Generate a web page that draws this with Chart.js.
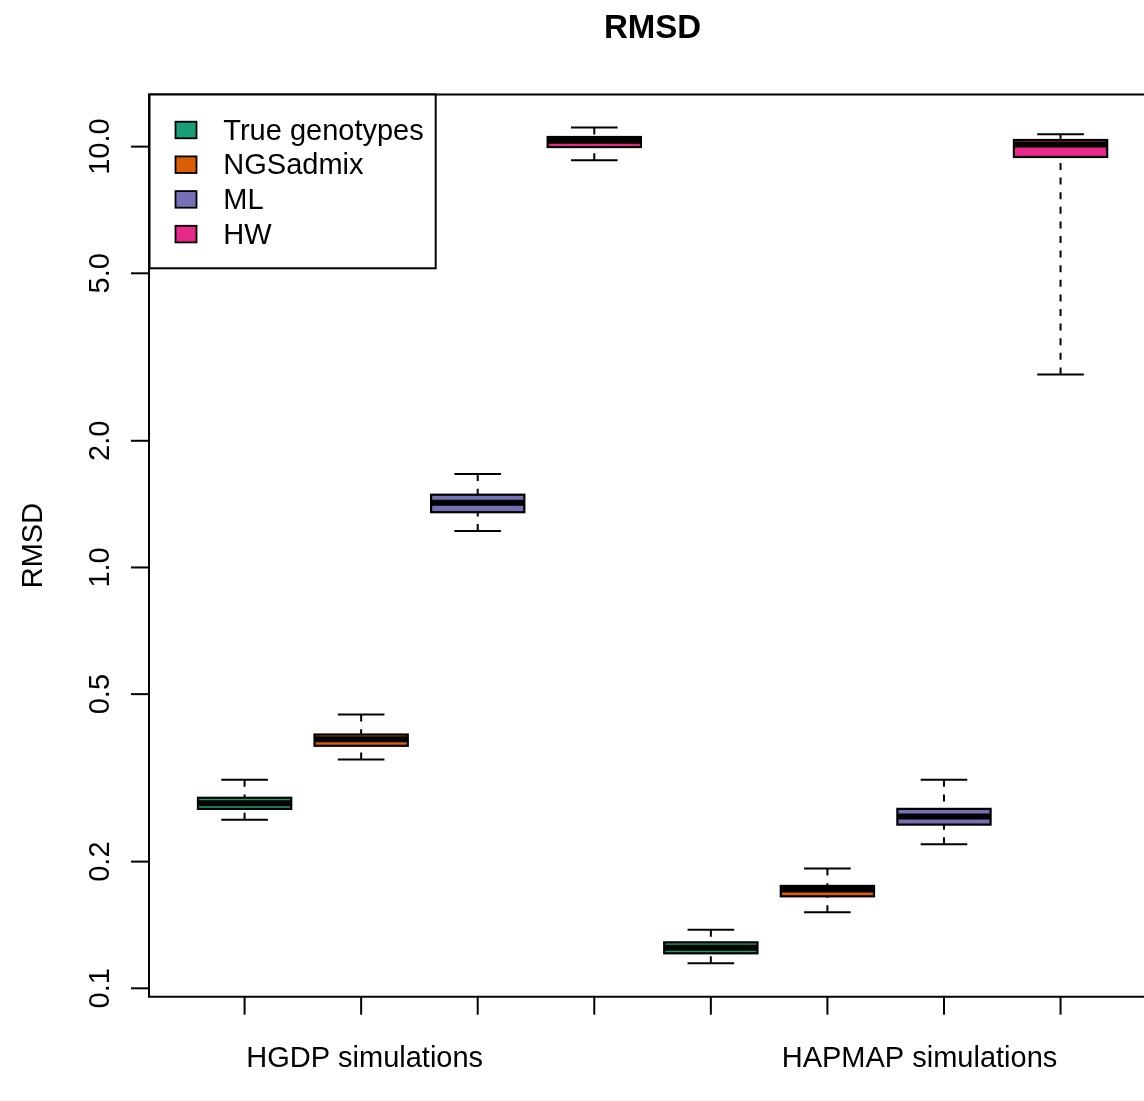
<!DOCTYPE html>
<html>
<head>
<meta charset="utf-8">
<title>RMSD</title>
<script src="https://cdn.jsdelivr.net/npm/chart.js@4.4.1/dist/chart.umd.min.js"></script>
<style>
  html, body { margin: 0; padding: 0; background: #ffffff; overflow: hidden; }
  #wrap { width: 1144px; height: 1101px; position: relative; }
  canvas { display: block; }
</style>
</head>
<body>
<div id="wrap"><canvas id="rmsd" width="1144" height="1101"></canvas></div>
<script>
// Methods compared within each simulation set
const methods = ['True genotypes', 'NGSadmix', 'ML', 'HW'];
const methodColors = ['#1B9E77', '#D95F02', '#7570B3', '#E7298A'];

// Simulation sets and where their labels sit along the x axis
const groups = ['HGDP simulations', 'HAPMAP simulations'];
const groupLabelAt = [2.03, 6.79];

// Box positions: 4 methods for HGDP, then 4 for HAPMAP
const boxPositions = [1, 2, 3, 4, 5, 6, 7, 8];
const boxMethod = [0, 1, 2, 3, 0, 1, 2, 3];

// Five-number summaries of RMSD per box
const lowerWhisker  = [0.2514, 0.3497, 1.220, 9.278, 0.1147, 0.1516, 0.2199, 2.876];
const lowerQuartile = [0.2669, 0.3769, 1.353, 9.977, 0.1211, 0.1654, 0.2449, 9.448];
const medians       = [0.2752, 0.3906, 1.425, 10.32, 0.1249, 0.1716, 0.2559, 10.11];
const upperQuartile = [0.2836, 0.4009, 1.489, 10.54, 0.1286, 0.1751, 0.2669, 10.37];
const upperWhisker  = [0.3129, 0.4472, 1.667, 11.10, 0.1377, 0.1925, 0.3129, 10.70];

// Log-scale axis ticks
const yTicks = [0.1, 0.2, 0.5, 1, 2, 5, 10];
const yTickLabels = ['0.1', '0.2', '0.5', '1.0', '2.0', '5.0', '10.0'];

const FONT = '"Liberation Sans", Arial, Helvetica, sans-serif';

// Draws the frame, axes, boxplots and legend in base-graphics style
const boxplotPainter = {
  id: 'boxplotPainter',
  afterDraw(chart) {
    const ctx = chart.ctx;
    const a = chart.chartArea;
    const xs = chart.scales.x;
    const ys = chart.scales.y;
    ctx.save();
    ctx.strokeStyle = '#000';
    ctx.fillStyle = '#000';
    ctx.lineCap = 'butt';

    // plot frame (the right side runs off the canvas)
    ctx.lineWidth = 2;
    ctx.beginPath();
    ctx.moveTo(a.right + 30, a.top);
    ctx.lineTo(a.left, a.top);
    ctx.lineTo(a.left, a.bottom);
    ctx.lineTo(a.right + 30, a.bottom);
    ctx.stroke();

    // y axis ticks and rotated labels
    ctx.font = '29px ' + FONT;
    yTicks.forEach((v, i) => {
      const py = ys.getPixelForValue(v);
      ctx.beginPath();
      ctx.moveTo(a.left - 18, py);
      ctx.lineTo(a.left, py);
      ctx.stroke();
      ctx.save();
      ctx.translate(a.left - 40, py);
      ctx.rotate(-Math.PI / 2);
      ctx.textAlign = 'center';
      ctx.textBaseline = 'alphabetic';
      ctx.fillText(yTickLabels[i], 0, 0);
      ctx.restore();
    });

    // y axis title
    ctx.save();
    ctx.translate(42, (a.top + a.bottom) / 2);
    ctx.rotate(-Math.PI / 2);
    ctx.textAlign = 'center';
    ctx.fillText('RMSD', 0, 0);
    ctx.restore();

    // x axis ticks
    boxPositions.forEach(p => {
      const px = xs.getPixelForValue(p);
      ctx.beginPath();
      ctx.moveTo(px, a.bottom);
      ctx.lineTo(px, a.bottom + 18);
      ctx.stroke();
    });

    // group labels under the axis
    ctx.textAlign = 'center';
    groups.forEach((g, i) => {
      ctx.fillText(g, xs.getPixelForValue(groupLabelAt[i]), a.bottom + 70);
    });

    // main title
    ctx.font = 'bold 33px ' + FONT;
    ctx.fillText('RMSD', xs.getPixelForValue(4.5), 38);

    // boxplots
    boxPositions.forEach((p, i) => {
      const cx = xs.getPixelForValue(p);
      const half = xs.getPixelForValue(p + 0.4) - cx;
      const yLo = ys.getPixelForValue(lowerWhisker[i]);
      const yQ1 = ys.getPixelForValue(lowerQuartile[i]);
      const yMed = ys.getPixelForValue(medians[i]);
      const yQ3 = ys.getPixelForValue(upperQuartile[i]);
      const yHi = ys.getPixelForValue(upperWhisker[i]);

      // dashed whiskers, drawn from the whisker end toward the box
      ctx.lineWidth = 2;
      ctx.setLineDash([7, 7.6]);
      ctx.beginPath();
      ctx.moveTo(cx, yLo); ctx.lineTo(cx, yQ1);
      ctx.moveTo(cx, yHi); ctx.lineTo(cx, yQ3);
      ctx.stroke();
      ctx.setLineDash([]);

      // staples
      ctx.beginPath();
      ctx.moveTo(cx - half / 2, yLo); ctx.lineTo(cx + half / 2, yLo);
      ctx.moveTo(cx - half / 2, yHi); ctx.lineTo(cx + half / 2, yHi);
      ctx.stroke();

      // box
      ctx.fillStyle = methodColors[boxMethod[i]];
      ctx.fillRect(cx - half, yQ3, 2 * half, yQ1 - yQ3);
      ctx.lineWidth = 2.2;
      ctx.strokeRect(cx - half, yQ3, 2 * half, yQ1 - yQ3);

      // median
      ctx.lineWidth = 6;
      ctx.beginPath();
      ctx.moveTo(cx - half, yMed); ctx.lineTo(cx + half, yMed);
      ctx.stroke();
    });

    // legend
    const lx0 = a.left + 0.5, ly0 = a.top, lx1 = 435.7, ly1 = 268.3;
    ctx.fillStyle = '#fff';
    ctx.fillRect(lx0, ly0, lx1 - lx0, ly1 - ly0);
    ctx.lineWidth = 2;
    ctx.strokeRect(lx0, ly0, lx1 - lx0, ly1 - ly0);
    ctx.font = '29px ' + FONT;
    ctx.textAlign = 'left';
    methods.forEach((m, i) => {
      const cy = 130 + i * 34.7;
      ctx.fillStyle = methodColors[i];
      ctx.fillRect(175.5, cy - 8.3, 21, 16.6);
      ctx.lineWidth = 1.8;
      ctx.strokeRect(175.5, cy - 8.3, 21, 16.6);
      ctx.fillStyle = '#000';
      ctx.fillText(m, 223.3, cy + 9.5);
    });

    ctx.restore();
  }
};

new Chart(document.getElementById('rmsd'), {
  type: 'scatter',
  data: { datasets: [] },
  options: {
    responsive: false,
    animation: false,
    devicePixelRatio: 1,
    layout: { padding: { left: 149, top: 94.5, right: 0, bottom: 104.3 } },
    plugins: {
      legend: { display: false },
      title: { display: false },
      tooltip: { enabled: false }
    },
    scales: {
      x: { type: 'linear', min: 0.18, max: 8.716, display: false },
      y: { type: 'logarithmic', min: 0.09551, max: 13.30, display: false }
    }
  },
  plugins: [boxplotPainter]
});
</script>
</body>
</html>
